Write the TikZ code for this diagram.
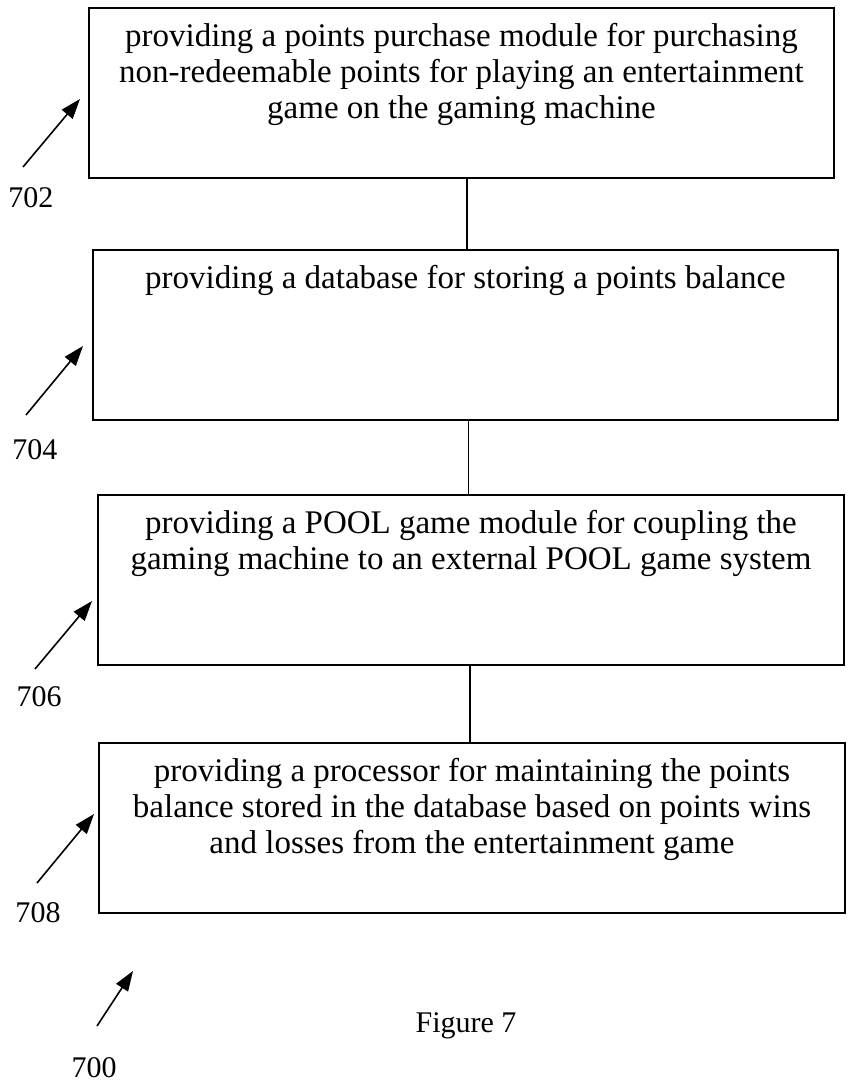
\documentclass[tikz,border=0pt]{standalone}
\usepackage{fontspec}
\setmainfont{Liberation Serif}
\usetikzlibrary{arrows.meta,positioning}

\begin{document}
\begin{tikzpicture}[x=1pt, y=-1pt,
    stepbox/.style={draw, line width=1.6pt, minimum width=745pt, minimum height=170pt, inner sep=0pt},
    steptext/.style={align=center, inner sep=0pt, font=\fontsize{33}{36}\selectfont},
    reflabel/.style={font=\fontsize{30}{36}\selectfont, inner sep=0pt, anchor=base},
    refarrow/.style={line width=1.6pt, -{Triangle[length=20pt, width=14pt]}},
    link/.style={line width=1.4pt}]
  \useasboundingbox (0,0) rectangle (847,1091);

  % steps
  \node[stepbox] (b702) at (461.5,93) {};
  \node[steptext, below=16pt of b702.north] (t702) {providing a points purchase module for purchasing\\
    non-redeemable points for playing an entertainment\\game on the gaming machine};

  \node[stepbox] (b704) at (465.5,335) {};
  \node[steptext, below=16pt of b704.north] (t704) {providing a database for storing a points balance};

  \node[stepbox, minimum width=746pt] (b706) at (471,580) {};
  \node[steptext, below=16pt of b706.north] (t706) {providing a POOL game module for coupling the\\
    gaming machine to an external POOL game system};

  \node[stepbox, minimum width=746pt] (b708) at (472,828) {};
  \node[steptext, below=16pt of b708.north] (t708) {providing a processor for maintaining the points\\
    balance stored in the database based on points wins\\and losses from the entertainment game};

  \draw[link] ([xshift=5.5pt]b702.south) -- ([xshift=1.5pt]b704.north);
  \draw[link] ([xshift=3pt]b704.south) -- ([xshift=-2.5pt]b706.north);
  \draw[link] ([xshift=-1pt]b706.south) -- ([xshift=-2pt]b708.north);

  % reference numerals
  \foreach \n/\lx/\ly/\tx/\ty/\hx/\hy in {702/31/208/23/167/80/99,
      704/35/459/26/415/83/346, 706/39/706/35/669/92/601,
      708/38/922/37/883/94/814, 700/94/1077/97/1026/133/971} {
    \node[reflabel] (l\n) at (\lx,\ly) {\n};
    \coordinate (s\n) at (\tx,\ty);
    \coordinate (e\n) at (\hx,\hy);
    \draw[refarrow] (s\n) -- (e\n);
  }

  \node[reflabel] (fig) at (466,1032) {Figure 7};
\end{tikzpicture}
\end{document}
